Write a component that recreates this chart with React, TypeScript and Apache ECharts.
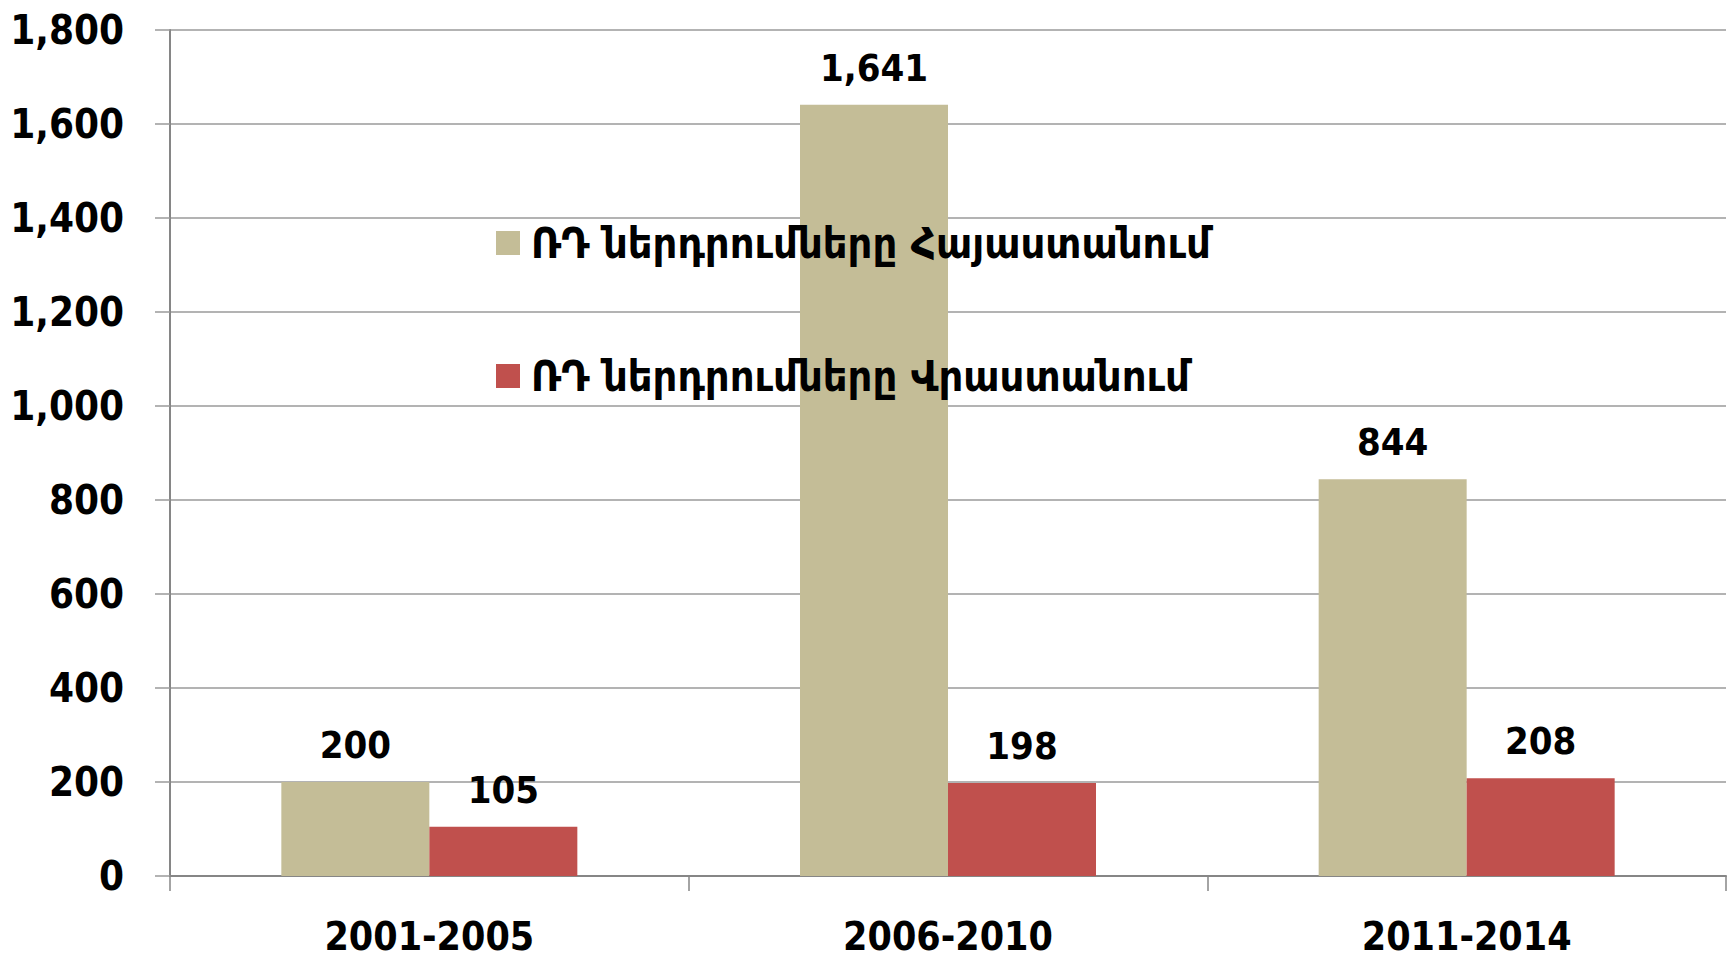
import React, { useEffect, useRef } from "react";
import * as echarts from "echarts";

const categories = ["2001-2005", "2006-2010", "2011-2014"];
const seriesNames = ["ՌԴ ներդրումները Հայաստանում", "ՌԴ ներդրումները Վրաստանում"];
const armeniaValues = [200, 1641, 844];
const georgiaValues = [105, 198, 208];
const yMin = 0;
const yMax = 1800;
const yInterval = 200;

const FONT = "'DejaVu Sans Condensed', 'DejaVu Sans', sans-serif";
const fmt = (v: number) => Number(v).toLocaleString("en-US");

export default function App() {
  const ref = useRef<HTMLDivElement>(null);
  useEffect(() => {
    if (!ref.current) return;
    const chart = echarts.init(ref.current, undefined, { renderer: "svg" });
    const labelStyle = {
      show: true,
      position: "top" as const,
      distance: 18,
      color: "#000",
      fontFamily: FONT,
      fontWeight: "bold" as const,
      fontSize: 38,
      formatter: (p: any) => fmt(p.value),
    };
    chart.setOption({
      animation: false,
      backgroundColor: "#fff",
      grid: { left: 170, right: 2, top: 30, bottom: 81, containLabel: false },
      legend: {
        orient: "vertical",
        left: 491,
        top: 216,
        itemWidth: 24,
        itemHeight: 24,
        itemGap: 89,
        icon: "rect",
        textStyle: {
          fontFamily: FONT,
          fontWeight: "bold",
          fontSize: 43,
          lineHeight: 44,
          color: "#000",
          padding: [0, 0, 0, 6],
        },
        data: seriesNames,
      },
      xAxis: {
        type: "category",
        data: categories,
        axisLine: { lineStyle: { color: "#868686", width: 2 } },
        axisTick: { show: true, length: 15, lineStyle: { color: "#868686", width: 1.5 } },
        axisLabel: {
          margin: 41,
          color: "#000",
          fontFamily: FONT,
          fontWeight: "bold",
          fontSize: 39,
        },
      },
      yAxis: {
        type: "value",
        min: yMin,
        max: yMax,
        interval: yInterval,
        axisLine: { show: true, lineStyle: { color: "#868686", width: 2 } },
        axisTick: { show: true, length: 15, lineStyle: { color: "#9a9a9a", width: 1.5 } },
        splitLine: { show: true, lineStyle: { color: "#9a9a9a", width: 1.5 } },
        axisLabel: {
          margin: 46,
          color: "#000",
          fontFamily: FONT,
          fontWeight: "bold",
          fontSize: 40,
          formatter: (v: number) => fmt(v),
        },
      },
      series: [
        {
          name: seriesNames[0],
          type: "bar",
          data: armeniaValues,
          barWidth: 148,
          barGap: "0%",
          itemStyle: { color: "#C4BD97" },
          label: labelStyle,
        },
        {
          name: seriesNames[1],
          type: "bar",
          data: georgiaValues,
          barWidth: 148,
          barGap: "0%",
          itemStyle: { color: "#C0504D" },
          label: labelStyle,
        },
      ],
    });
    return () => chart.dispose();
  }, []);
  return (
    <div
      ref={ref}
      style={{ position: "fixed", left: 0, top: 0, width: 1728, height: 957 }}
    />
  );
}
